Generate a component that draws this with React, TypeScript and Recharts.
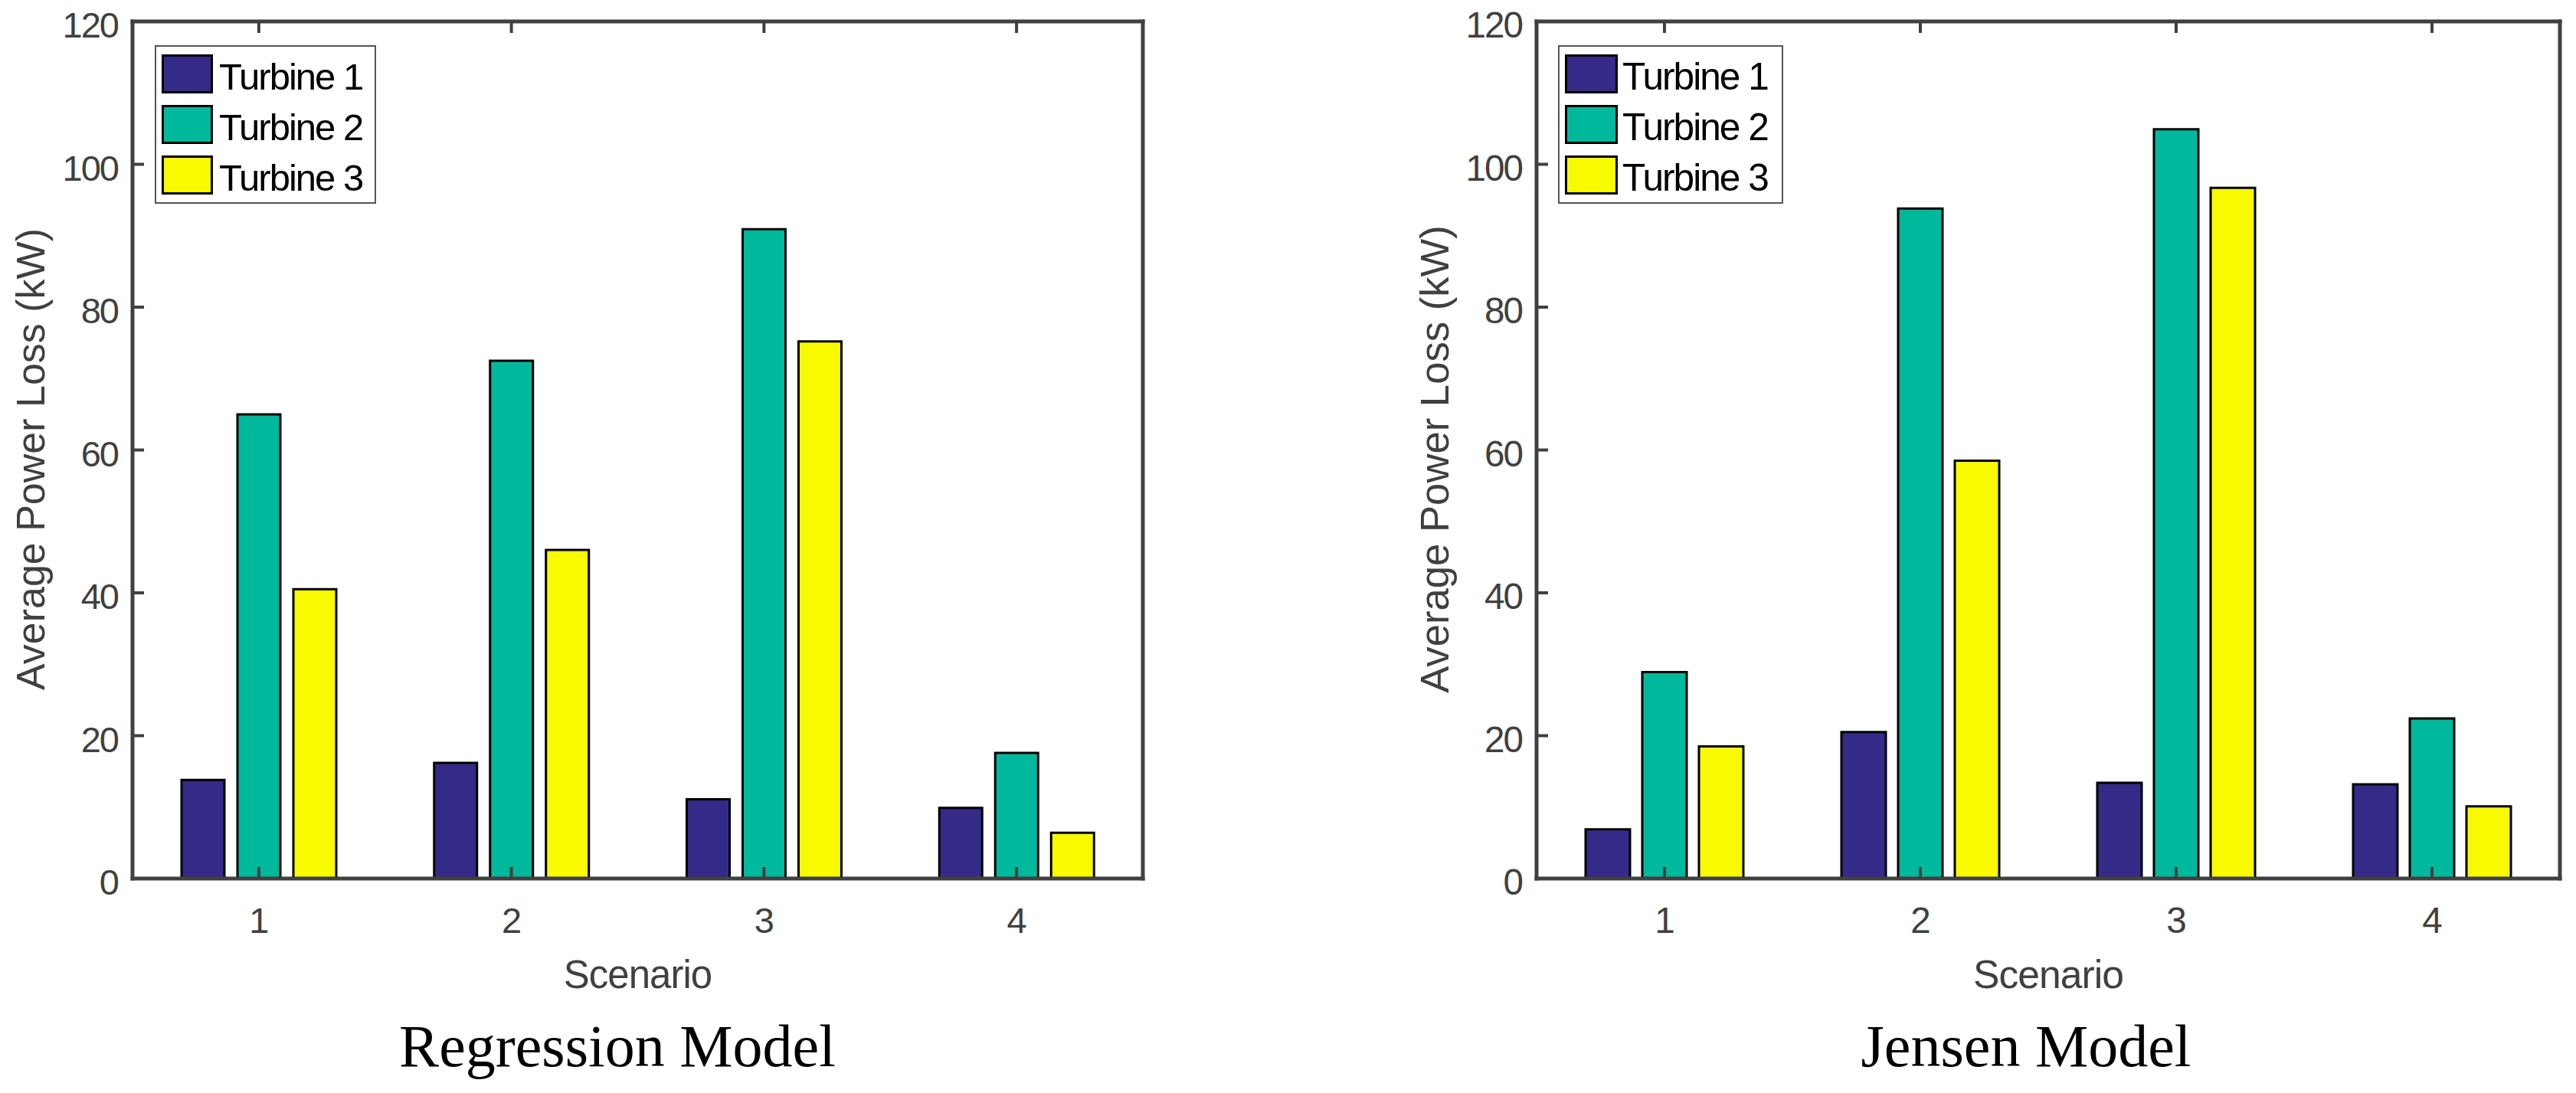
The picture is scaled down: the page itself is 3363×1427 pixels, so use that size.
import React from "react";
import { Bar, BarChart, Legend, XAxis, YAxis } from "recharts";

const scenarios = ["1", "2", "3", "4"];
const regressionTurbine1 = [13.8, 16.2, 11.1, 9.9];
const regressionTurbine2 = [65.0, 72.5, 90.9, 17.6];
const regressionTurbine3 = [40.5, 46.0, 75.2, 6.4];
const jensenTurbine1 = [6.9, 20.5, 13.4, 13.2];
const jensenTurbine2 = [28.9, 93.8, 104.9, 22.4];
const jensenTurbine3 = [18.5, 58.5, 96.7, 10.1];
const yTicks = [0, 20, 40, 60, 80, 100, 120];
const seriesNames = ["Turbine 1", "Turbine 2", "Turbine 3"];
const seriesColors = ["#352a87", "#00b89b", "#f9f900"];

type Row = { scenario: string; t1: number; t2: number; t3: number };

const buildRows = (a: number[], b: number[], c: number[]): Row[] =>
  scenarios.map((s, i) => ({ scenario: s, t1: a[i], t2: b[i], t3: c[i] }));

const regressionRows = buildRows(regressionTurbine1, regressionTurbine2, regressionTurbine3);
const jensenRows = buildRows(jensenTurbine1, jensenTurbine2, jensenTurbine3);

const AXIS = "#404040";
const SANS = '"Liberation Sans", Arial, Helvetica, sans-serif';
const SERIF = '"Liberation Serif", "Times New Roman", Times, serif';

const axisLine = { stroke: AXIS, strokeWidth: 5, strokeLinecap: "square" as const };
const tickLine = { stroke: AXIS, strokeWidth: 4 };

function BottomTick({ x, y, payload, s }: any) {
  return (
    <text x={x} y={y + 71} textAnchor="middle" fill={AXIS} fontFamily={SANS} fontSize={47 * s} letterSpacing={-1}>
      {payload.value}
    </text>
  );
}

function LeftTick({ x, y, payload, s }: any) {
  return (
    <text x={x} y={y + 21} textAnchor="end" fill={AXIS} fontFamily={SANS} fontSize={47 * s} letterSpacing={-2}>
      {payload.value}
    </text>
  );
}

function YLabel({ viewBox, s }: any) {
  if (!viewBox) return null;
  const x = viewBox.x + viewBox.width - 115;
  const y = viewBox.y + viewBox.height / 2 + 12;
  return (
    <text x={x} y={y} transform={`rotate(-90, ${x}, ${y})`} textAnchor="middle" fill={AXIS} fontFamily={SANS} fontSize={52 * s}>
      Average Power Loss (kW)
    </text>
  );
}

function XLabel({ viewBox, s }: any) {
  if (!viewBox) return null;
  return (
    <text x={viewBox.x + viewBox.width / 2} y={viewBox.y + 143} textAnchor="middle" fill={AXIS} fontFamily={SANS} fontSize={51 * s} letterSpacing={-1}>
      Scenario
    </text>
  );
}

function LegendBox({ payload, width, swatch, s }: any) {
  return (
    <svg width={width} height={207} style={{ display: "block" }}>
      <rect x={1} y={1} width={width - 2} height={205} fill="#fff" stroke="#555" strokeWidth={2} />
      {(payload || []).map((e: any, i: number) => (
        <g key={e.value}>
          <rect x={10.5} y={13.5 + 66 * i} width={swatch - 3} height={48} fill={e.color} stroke="#000" strokeWidth={3} />
          <text x={84} y={58 + 66 * i} fill="#000" fontFamily={SANS} fontSize={49 * s} letterSpacing={-2}>
            {e.value}
          </text>
        </g>
      ))}
    </svg>
  );
}

interface PanelProps {
  rows: Row[];
  left: number;
  yAxisWidth: number;
  plotWidth: number;
  barSize: number;
  barGap: number;
  s: number;
  legendLeft: number;
  legendWidth: number;
  swatch: number;
}

function Panel(p: PanelProps) {
  const width = p.yAxisWidth + p.plotWidth + 8;
  return (
    <div style={{ position: "absolute", left: p.left, top: 0 }}>
      <BarChart
        width={width}
        height={1337}
        data={p.rows}
        margin={{ top: 27, right: 7, bottom: 0, left: 0 }}
        barSize={p.barSize}
        barGap={p.barGap}
      >
        <XAxis
          dataKey="scenario"
          height={190}
          tickSize={-15}
          tickMargin={15}
          axisLine={axisLine}
          tickLine={tickLine}
          tick={(t: any) => <BottomTick {...t} s={p.s} />}
          label={<XLabel s={p.s} />}
        />
        <XAxis
          xAxisId="top"
          orientation="top"
          dataKey="scenario"
          height={1}
          tickSize={-15}
          axisLine={axisLine}
          tickLine={tickLine}
          tick={() => <g />}
        />
        <YAxis
          type="number"
          domain={[0, 120]}
          ticks={yTicks}
          interval={0}
          width={p.yAxisWidth}
          tickSize={-15}
          tickMargin={34}
          axisLine={axisLine}
          tickLine={tickLine}
          tick={(t: any) => <LeftTick {...t} s={p.s} />}
          label={<YLabel s={p.s} />}
        />
        <YAxis
          yAxisId="right"
          orientation="right"
          type="number"
          domain={[0, 120]}
          ticks={yTicks}
          interval={0}
          width={1}
          tickSize={-15}
          axisLine={axisLine}
          tickLine={tickLine}
          tick={() => <g />}
        />
        <Legend
          layout="horizontal"
          verticalAlign="middle"
          align="center"
          wrapperStyle={{ left: p.legendLeft, top: 59, width: p.legendWidth, height: 207 }}
          content={(lp: any) => <LegendBox payload={lp.payload} width={p.legendWidth} swatch={p.swatch} s={p.s} />}
        />
        <Bar dataKey="t1" name={seriesNames[0]} fill={seriesColors[0]} stroke="#000" strokeWidth={3} isAnimationActive={false} />
        <Bar dataKey="t2" name={seriesNames[1]} fill={seriesColors[1]} stroke="#000" strokeWidth={3} isAnimationActive={false} />
        <Bar dataKey="t3" name={seriesNames[2]} fill={seriesColors[2]} stroke="#000" strokeWidth={3} isAnimationActive={false} />
      </BarChart>
    </div>
  );
}

export default function App() {
  return (
    <div style={{ position: "relative", width: 3363, height: 1427, background: "#fff", overflow: "hidden" }}>
      <style>{"body{margin:0}"}</style>
      <Panel
        rows={regressionRows}
        left={0}
        yAxisWidth={173}
        plotWidth={1319}
        barSize={56}
        barGap={17}
        s={1}
        legendLeft={202}
        legendWidth={289}
        swatch={67}
      />
      <Panel
        rows={jensenRows}
        left={1800}
        yAxisWidth={206}
        plotWidth={1336}
        barSize={58}
        barGap={16}
        s={1.013}
        legendLeft={234}
        legendWidth={294}
        swatch={69}
      />
      <svg width={3363} height={1427} style={{ position: "absolute", left: 0, top: 0, pointerEvents: "none" }}>
        <text x={806} y={1392} textAnchor="middle" fill="#000" fontFamily={SERIF} fontSize={78}>
          Regression Model
        </text>
        <text x={2645} y={1392} textAnchor="middle" fill="#000" fontFamily={SERIF} fontSize={78}>
          Jensen Model
        </text>
      </svg>
    </div>
  );
}
